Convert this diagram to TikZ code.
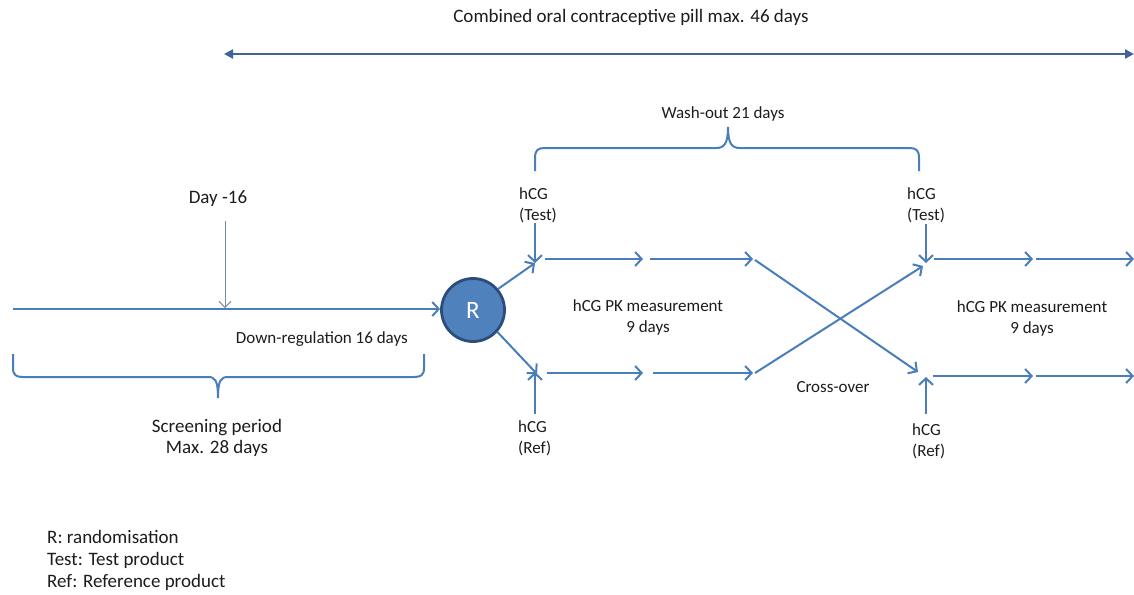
\documentclass[tikz,border=0pt]{standalone}
\usepackage{fontspec}
\setmainfont{Carlito}
\usetikzlibrary{arrows.meta}
\definecolor{lblue}{RGB}{74,126,187}
\definecolor{dblue}{RGB}{64,100,152}
\definecolor{rfill}{RGB}{79,129,189}
\definecolor{rborder}{RGB}{44,77,122}
\definecolor{txt}{RGB}{28,28,28}
\definecolor{thin}{RGB}{120,140,165}
\tikzset{
  flow/.style={draw=lblue, line width=2pt, -{Straight Barb[length=6.5pt,width=14pt,line width=2pt]}},
  plain/.style={draw=lblue, line width=2pt},
  lbl/.style={text=txt, font=\fontsize{17}{21}\selectfont, inner sep=0pt},
  big/.style={font=\fontsize{19}{21}\selectfont},
  lbll/.style={lbl, align=left, anchor=west},
  lblc/.style={lbl, align=center},
}
\begin{document}
\begin{tikzpicture}[x=1pt,y=-1pt]
\useasboundingbox (0,0) rectangle (1134,594);
% title and double arrow
\node[lblc, big] (title) at (631,17) {Combined oral contraceptive pill max. 46 days};
\coordinate (pl) at (224,54);
\coordinate (pr) at (1134,54);
\draw[draw=dblue, line width=2.2pt, {Triangle[length=9pt,width=9pt]}-{Triangle[length=9pt,width=9pt]}] (pl) -- (pr);

% wash-out brace
\node[lblc] (wash) at (723,114) {Wash-out 21 days};
\draw[plain] (535,171) -- (535,158) .. controls (535,150) and (538,148) .. (545,148) -- (716,148) .. controls (724,148) and (728,144) .. (728,127) .. controls (728,144) and (732,148) .. (740,148) -- (909,148) .. controls (916,148) and (919,150) .. (919,158) -- (919,171);

% left part
\node[lblc, big] (day) at (218,199) {Day -16};
\coordinate (dtop) at (225,221);
\coordinate (dbot) at (225,308);
\draw[draw=thin, line width=0.9pt, -{Straight Barb[length=6pt,width=12pt,line width=0.9pt]}] (dtop) -- (dbot);
\coordinate (mstart) at (13,309);
\node[circle, fill=rfill, draw=rborder, line width=2.8pt, minimum size=63pt, text=white, font=\fontsize{25}{28}\selectfont, inner sep=0pt] (R) at (473,310) {R};
\draw[flow] (mstart) -- (R.west |- mstart);
\node[lbl, anchor=east] (down) at (408,339) {Down-regulation 16 days};
\draw[plain] (13,354) -- (13,368) .. controls (13,375) and (16,377) .. (23,377) -- (208,377) .. controls (215,377) and (218,380) .. (218,398) .. controls (218,380) and (221,377) .. (228,377) -- (414,377) .. controls (421,377) and (424,375) .. (424,368) -- (424,354);
\node[lblc, big] (screen) at (217,437.5) {Screening period\\Max. 28 days};

% first period
\coordinate (t1) at (535,263);
\coordinate (b1) at (535,372);
\node[lbll] (hct1) at (519,205.5) {hCG\\(Test)};
\draw[flow] (535,223) -- (t1);
\node[lbll] (hcr1) at (518,438) {hCG\\(Ref)};
\draw[flow] (535,414) -- (b1);
\draw[flow] (R.40) -- (t1);
\draw[flow] (R.-42) -- ([xshift=2pt,yshift=-2pt]b1);
\coordinate (ta) at (545,259);
\coordinate (tb) at (643,259);
\coordinate (tc) at (650,259);
\coordinate (td) at (753,259);
\draw[flow] (ta) -- (tb);
\draw[flow] (tc) -- (td);
\coordinate (ba) at (547,373);
\coordinate (bb) at (643,373);
\coordinate (bc) at (653,373);
\coordinate (bd) at (753,373);
\draw[flow] (ba) -- (bb);
\draw[flow] (bc) -- (bd);
\node[lblc] (pk1) at (648,317) {hCG PK measurement\\9 days};

% cross-over
\coordinate (t2) at (926,263);
\coordinate (b2) at (926,377);
\draw[flow] (755,260) -- (918,372);
\draw[flow] (755,373) -- (923,266);
\node[lbl] (cross) at (833,387) {Cross-over};

% second period
\node[lbll] (hct2) at (907,205.5) {hCG\\(Test)};
\draw[flow] (926,224) -- (t2);
\node[lbll] (hcr2) at (912,441) {hCG\\(Ref)};
\draw[flow] (926,414) -- (b2);
\coordinate (sa) at (934,259);
\coordinate (sb) at (1033,259);
\coordinate (sc) at (1036,259);
\coordinate (sd) at (1134,259);
\draw[flow] (sa) -- (sb);
\draw[flow] (sc) -- (sd);
\coordinate (ua) at (933,376);
\coordinate (ub) at (1033,376);
\coordinate (uc) at (1036,376);
\coordinate (ud) at (1134,376);
\draw[flow] (ua) -- (ub);
\draw[flow] (uc) -- (ud);
\node[lblc] (pk2) at (1032,318.5) {hCG PK measurement\\9 days};

% legend
\node[lbll, font=\fontsize{19}{22}\selectfont] (legend) at (47,560) {R: randomisation\\Test: Test product\\Ref: Reference product};
\end{tikzpicture}
\end{document}
